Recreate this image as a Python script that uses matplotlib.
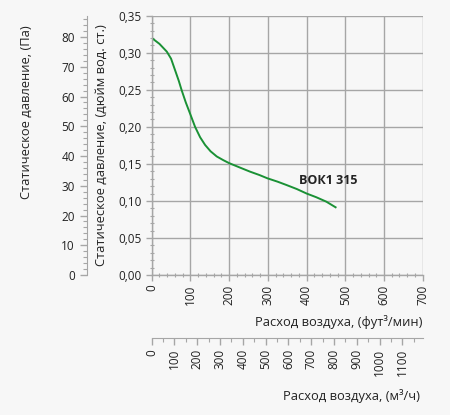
import matplotlib
matplotlib.use('Agg')
import matplotlib.pyplot as plt
from matplotlib.ticker import MultipleLocator, FixedLocator

plt.rcParams['font.family'] = ['Open Sans', 'DejaVu Sans']

# кривая ВОК1 315, расход в фут3/мин, давление в дюймах вод. ст.
flow_cfm = [0, 20, 39, 50, 60, 70, 77, 88, 99, 112, 125, 138, 152, 168, 185, 200,
            228, 254, 278, 299, 325, 348, 375, 400, 425, 451, 475]
press_in = [0.320, 0.312, 0.3015, 0.292, 0.277, 0.262, 0.250, 0.233, 0.218, 0.200,
            0.186, 0.1755, 0.167, 0.160, 0.155, 0.151, 0.145, 0.1395, 0.135,
            0.1305, 0.126, 0.1215, 0.116, 0.110, 0.105, 0.099, 0.0914]
curve_name = 'ВОК1 315'

cfm_ticks = [0, 100, 200, 300, 400, 500, 600, 700]
m3h_ticks = [0, 100, 200, 300, 400, 500, 600, 700, 800, 900, 1000, 1100]
pa_ticks = [0, 10, 20, 30, 40, 50, 60, 70, 80]

CFM_TO_M3H = 1.699
IN_TO_PA = 249.09

bg = '#f7f7f7'
grid_c = '#a6a6a6'
txt_c = '#222222'

fig = plt.figure(figsize=(4.5, 4.15), dpi=100, facecolor=bg)
ax = fig.add_axes([151.7 / 450, 1 - 275 / 415, 271 / 450, 259.3 / 415])
ax.set_facecolor(bg)

ax.plot(flow_cfm, press_in, color='#1a9135', lw=1.4)
ax.text(381, 0.128, curve_name, fontsize=9, fontweight='bold', color=txt_c,
        va='center', ha='left')

ax.set_xlim(0, 700)
ax.set_ylim(0, 0.35)
ax.xaxis.set_major_locator(FixedLocator(cfm_ticks))
ax.xaxis.set_minor_locator(MultipleLocator(20))
ax.yaxis.set_major_locator(MultipleLocator(0.05))
ax.yaxis.set_minor_locator(MultipleLocator(0.01))
ax.set_yticklabels([f'{v:.2f}'.replace('.', ',') for v in ax.get_yticks()])
ax.set_xticklabels([str(v) for v in cfm_ticks], rotation=90)
ax.grid(True, which='major', color=grid_c, lw=1.0)
for s in ['top', 'right']:
    ax.spines[s].set_visible(False)
for s in ['left', 'bottom']:
    ax.spines[s].set_color(grid_c)
    ax.spines[s].set_linewidth(1.0)
ax.tick_params(which='major', length=4, width=1, color=grid_c, labelsize=8.5,
               labelcolor=txt_c, direction='out')
ax.tick_params(which='minor', length=2.5, width=0.8, color=grid_c, direction='inout')
ax.tick_params(axis='x', pad=3)
ax.set_xlabel('Расход воздуха, (фут³/мин)', fontsize=9.3, color=txt_c)
ax.xaxis.set_label_coords(1.0, -0.155)
ax.xaxis.label.set_horizontalalignment('right')
ax.set_ylabel('Статическое давление, (дюйм вод. ст.)', fontsize=9.3, color=txt_c)
ax.yaxis.set_label_coords(-0.163, 0.5)

# ось в Па слева
ax_pa = ax.twinx()
ax_pa.set_ylim(0, 0.35 * IN_TO_PA)
ax_pa.yaxis.set_ticks_position('left')
ax_pa.yaxis.set_label_position('left')
ax_pa.spines['left'].set_position(('axes', -65 / 271))
ax_pa.spines['left'].set_visible(True)
ax_pa.spines['left'].set_color(grid_c)
for s in ['top', 'right', 'bottom']:
    ax_pa.spines[s].set_visible(False)
ax_pa.yaxis.set_major_locator(FixedLocator(pa_ticks))
ax_pa.yaxis.set_minor_locator(MultipleLocator(2))
ax_pa.tick_params(which='major', length=5, width=1, color=grid_c, labelsize=8.5,
                  labelcolor=txt_c)
ax_pa.tick_params(which='minor', length=3, width=0.8, color=grid_c)
ax_pa.set_ylabel('Статическое давление, (Па)', fontsize=9.3, color=txt_c)
ax_pa.yaxis.set_label_coords(-0.438, 0.63)

# ось в м3/ч снизу
ax_m = ax.twiny()
ax_m.set_xlim(0, 700 * CFM_TO_M3H)
ax_m.xaxis.set_ticks_position('bottom')
ax_m.xaxis.set_label_position('bottom')
ax_m.spines['bottom'].set_position(('axes', -63 / 259.3))
ax_m.spines['bottom'].set_visible(True)
ax_m.spines['bottom'].set_color(grid_c)
for s in ['top', 'right', 'left']:
    ax_m.spines[s].set_visible(False)
ax_m.xaxis.set_major_locator(FixedLocator(m3h_ticks))
ax_m.xaxis.set_minor_locator(MultipleLocator(50))
ax_m.set_xticklabels([str(v) for v in m3h_ticks], rotation=90)
ax_m.tick_params(which='major', length=5, width=1, color=grid_c, labelsize=8.5,
                 labelcolor=txt_c, pad=3)
ax_m.tick_params(which='minor', length=3, width=0.8, color=grid_c)
ax_m.set_xlabel('Расход воздуха, (м³/ч)', fontsize=9.3, color=txt_c)
ax_m.xaxis.set_label_coords(0.99, -0.44)
ax_m.xaxis.label.set_horizontalalignment('right')

fig.savefig('out.png', dpi=100, facecolor=bg)
